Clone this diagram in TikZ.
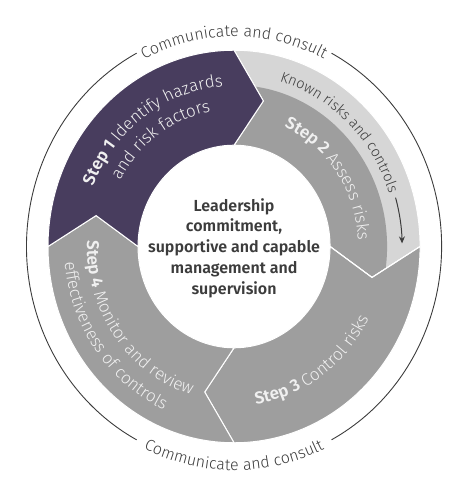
\documentclass[tikz,border=0pt]{standalone}
\usepackage{fontspec}
\setmainfont{Fira Sans}[UprightFont={* Light},BoldFont={* SemiBold}]
\usetikzlibrary{decorations.text,arrows.meta}

\definecolor{stepone}{HTML}{483D5E}
\definecolor{stepgrey}{HTML}{9E9E9E}
\definecolor{knowngrey}{HTML}{D6D6D6}
\definecolor{inkgrey}{HTML}{3C3C3C}
\definecolor{steptext}{HTML}{F0F0F0}

\newcommand\rimfont{\fontsize{16}{19}\selectfont}
\newcommand\ringfont{\fontsize{17}{20}\selectfont}
\newcommand\knownfont{\fontsize{14.5}{17}\selectfont}

% one ring segment: start angle, end angle, outer radius (tip points clockwise)
\newcommand\ringseg[3]{(#1:#3) arc[start angle=#1, end angle=#2, radius=#3]
  -- ({#2-12}:141) -- (#2:96) arc[start angle=#2, end angle=#1, radius=96]
  -- ({#1-12}:141) -- cycle}

\tikzset{
  seg/.style={fill=#1, draw=white, line width=1pt},
  arctext/.style 2 args={decoration={text along path, text align=center,
      text color=#1, text={#2}}, decorate},
}

\begin{document}
\begin{tikzpicture}[x=1pt, y=1.055pt]
\useasboundingbox (-234,-235.5) rectangle (233,233.6);

% ring segments
\fill[seg=knowngrey] \ringseg{90}{0}{186};
\begin{scope}
  \clip (0,0) circle (153);
  \fill[seg=stepgrey] \ringseg{90}{0}{186};
\end{scope}
\filldraw[seg=stepgrey] \ringseg{360}{270}{186};
\filldraw[seg=stepgrey] \ringseg{270}{180}{186};
\filldraw[seg=stepone] \ringseg{180}{90}{186};
\draw[white, line width=1pt] (0:96) -- (-12:141) -- (0:186);

% outer rim with gaps for the labels
\draw[inkgrey, line width=0.9pt] (118:207.5) arc[start angle=118, end angle=242, radius=207.5];
\draw[inkgrey, line width=0.9pt] (298:207.5) arc[start angle=298, end angle=422, radius=207.5];
\path[arctext={inkgrey}{|\rimfont|Communicate and consult}]
  (150:199) arc[start angle=150, end angle=30, radius=199];
\path[arctext={inkgrey}{|\rimfont|Communicate and consult}]
  (210:212) arc[start angle=210, end angle=330, radius=212];

% known risks band and its arrow
\path[arctext={inkgrey}{|\knownfont|Known risks and controls}]
  (100:163) arc[start angle=100, end angle=-7, radius=163];
\draw[inkgrey, line width=1pt, -{Stealth[length=7pt, width=6pt]}]
  (16:168) arc[start angle=16, end angle=1, radius=168];

% step labels
\path[arctext={steptext}{|\ringfont\bfseries|Step 1 |\ringfont|Identify hazards}]
  (180.5:152) arc[start angle=180.5, end angle=70.5, radius=152];
\path[arctext={steptext}{|\ringfont|and risk factors}]
  (180:130) arc[start angle=180, end angle=70, radius=130];
\path[arctext={steptext}{|\ringfont\bfseries|Step 2 |\ringfont|Assess risks}]
  (90:124) arc[start angle=90, end angle=-20, radius=124];
\path[arctext={steptext}{|\ringfont\bfseries|Step 3 |\ringfont|Control risks}]
  (245:151) arc[start angle=245, end angle=365, radius=151];
\path[arctext={steptext}{|\ringfont\bfseries|Step 4 |\ringfont|Monitor and review}]
  (156:147) arc[start angle=156, end angle=276, radius=147];
\path[arctext={steptext}{|\ringfont|effectiveness of controls}]
  (156:170) arc[start angle=156, end angle=276, radius=170];

% centre
\node[align=center, text=inkgrey, font=\fontsize{16}{20.7}\selectfont\bfseries]
  (lead) at (0,-1.4) {Leadership\\commitment,\\supportive and capable\\management and\\supervision};
\end{tikzpicture}
\end{document}
